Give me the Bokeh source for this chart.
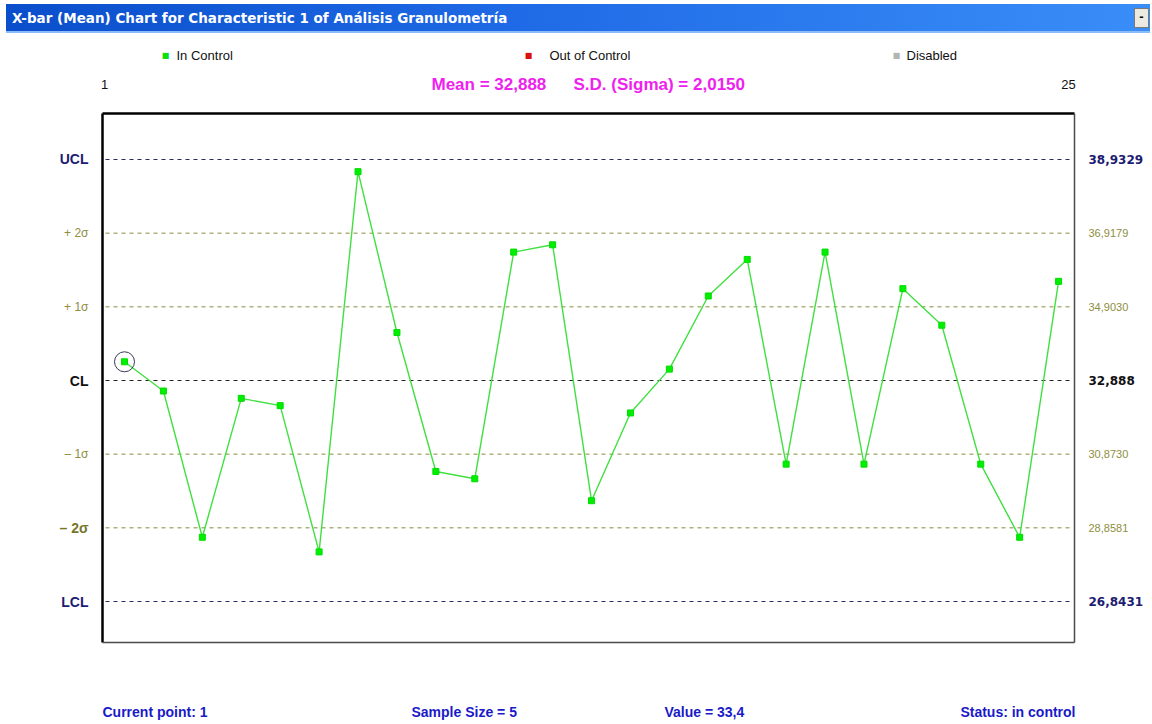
from bokeh.plotting import figure
from bokeh.models import Label, Div, Range1d
from bokeh.layouts import column
from bokeh.embed import file_html
from bokeh.resources import INLINE

# ---------------- data ----------------
title_text = "X-bar (Mean) Chart for Characteristic 1 of Análisis Granulometría"
samples = list(range(1, 26))
xbar = [33.4, 32.6, 28.6, 32.4, 32.2, 28.2, 38.6, 34.2, 30.4, 30.2,
        36.4, 36.6, 29.6, 32.0, 33.2, 35.2, 36.2, 30.6, 36.4, 30.6,
        35.4, 34.4, 30.6, 28.6, 35.6]
mean_text = "Mean = 32,888"
sd_text = "S.D. (Sigma) = 2,0150"
level_names = ["UCL", "+ 2σ", "+ 1σ", "CL", "– 1σ", "– 2σ", "LCL"]
level_values = [38.9329, 36.9179, 34.9030, 32.888, 30.8730, 28.8581, 26.8431]
level_texts = ["38,9329", "36,9179", "34,9030", "32,888", "30,8730", "28,8581", "26,8431"]
legend_names = ["In Control", "Out of Control", "Disabled"]
first_tick, last_tick = "1", "25"
status_texts = ["Current point: 1", "Sample Size = 5", "Value = 33,4", "Status: in control"]
current_index = 0

# ---------------- geometry (page pixels) ----------------
PAGE_W, PAGE_H = 1152, 724
BAR_H = 36                      # height of the window-title strip
FIG_W, FIG_H = PAGE_W, PAGE_H - BAR_H
PX_PER_X, PX_PER_Y = 38.92, 36.56
X_AT_PX = (124, samples[0])          # page x of first sample
Y_AT_PX = (380, level_values[3])     # page y of centre line


def dx(sx):
    return X_AT_PX[1] + (sx - X_AT_PX[0]) / PX_PER_X


def dy(sy):
    return Y_AT_PX[1] + (Y_AT_PX[0] - sy) / PX_PER_Y


p = figure(width=FIG_W, height=FIG_H, output_backend="svg", toolbar_location=None,
           x_range=Range1d(dx(0), dx(PAGE_W)), y_range=Range1d(dy(PAGE_H), dy(BAR_H)),
           x_axis_type=None, y_axis_type=None, min_border=0)
p.title.visible = False
p.outline_line_color = None
p.background_fill_color = "white"
p.border_fill_color = "white"

# plot box
BOX_L, BOX_R, BOX_T, BOX_B = 102, 1074, 113, 642
p.segment(x0=[dx(BOX_L), dx(BOX_L)], y0=[dy(BOX_T), dy(BOX_T)],
          x1=[dx(BOX_L), dx(BOX_R)], y1=[dy(BOX_B), dy(BOX_T)],
          line_color="black", line_width=2.5)
p.segment(x0=[dx(BOX_R), dx(BOX_L)], y0=[dy(BOX_T), dy(BOX_B)],
          x1=[dx(BOX_R), dx(BOX_R)], y1=[dy(BOX_B), dy(BOX_B)],
          line_color="#4a4a4a", line_width=1.5)

NAVY = "#1c1c72"
OLIVE_T = "#8e8e40"
SANS = "Liberation Sans"
line_colors = ["#2a2a66", "#8a8a3c", "#8a8a3c", "#222222", "#8a8a3c", "#8a8a3c", "#2a2a66"]
left_styles = [
    dict(color=NAVY, size="14px", style="bold", font=SANS),
    dict(color=OLIVE_T, size="12px", style="normal", font=SANS),
    dict(color=OLIVE_T, size="12px", style="normal", font=SANS),
    dict(color="#111111", size="14px", style="bold", font=SANS),
    dict(color=OLIVE_T, size="12px", style="normal", font=SANS),
    dict(color="#76762a", size="14px", style="bold", font=SANS),
    dict(color=NAVY, size="14px", style="bold", font=SANS),
]
right_styles = [
    dict(color=NAVY, size="12px", style="bold", font="DejaVu Sans"),
    dict(color=OLIVE_T, size="11px", style="normal", font=SANS),
    dict(color=OLIVE_T, size="11px", style="normal", font=SANS),
    dict(color="#111111", size="12px", style="bold", font="DejaVu Sans"),
    dict(color=OLIVE_T, size="11px", style="normal", font=SANS),
    dict(color=OLIVE_T, size="11px", style="normal", font=SANS),
    dict(color=NAVY, size="12px", style="bold", font="DejaVu Sans"),
]

# control-limit and sigma lines
for v, c in zip(level_values, line_colors):
    p.segment(x0=[dx(BOX_L + 3)], y0=[v], x1=[dx(BOX_R - 2)], y1=[v],
              line_color=c, line_dash="4 4", line_width=1)

for name, txt, v, ls, rs in zip(level_names, level_texts, level_values, left_styles, right_styles):
    p.add_layout(Label(x=dx(88), y=v, text=name, text_align="right", text_baseline="middle",
                       text_color=ls["color"], text_font_size=ls["size"],
                       text_font_style=ls["style"], text_font=ls["font"]))
    p.add_layout(Label(x=dx(1088), y=v, text=txt, text_align="left", text_baseline="middle",
                       text_color=rs["color"], text_font_size=rs["size"],
                       text_font_style=rs["style"], text_font=rs["font"]))

# series
p.line(samples, xbar, line_color="#40e040", line_width=1.4)
p.scatter(samples, xbar, marker="square", size=6, fill_color="#00ee00", line_color="#00dd00")
p.scatter([samples[current_index]], [xbar[current_index]], marker="circle", size=20,
          fill_color=None, line_color="#3a3a58", line_width=1)

# legend row
legend_sq_x = [165, 528, 896]
legend_tx_x = [176, 549, 906]
legend_cols = ["#10dd10", "#dd1010", "#b4b4b4"]
for name, sx, tx, c in zip(legend_names, legend_sq_x, legend_tx_x, legend_cols):
    p.add_layout(Label(x=dx(sx), y=dy(55), text="■", text_align="center", text_baseline="middle",
                       text_color=c, text_font_size="8px", text_font="DejaVu Sans"))
    p.add_layout(Label(x=dx(tx), y=dy(55), text=name, text_align="left", text_baseline="middle",
                       text_color="#111111", text_font_size="13px", text_font=SANS))

# range labels and statistics
p.add_layout(Label(x=dx(104), y=dy(84), text=first_tick, text_align="center", text_baseline="middle",
                   text_color="#111111", text_font_size="13px", text_font=SANS))
p.add_layout(Label(x=dx(1068), y=dy(84), text=last_tick, text_align="center", text_baseline="middle",
                   text_color="#111111", text_font_size="13px", text_font=SANS))
for t, sx in zip([mean_text, sd_text], [431, 573]):
    p.add_layout(Label(x=dx(sx), y=dy(84), text=t, text_align="left", text_baseline="middle",
                       text_color="#ee22ee", text_font_size="17px", text_font_style="bold",
                       text_font=SANS))

# status row
status_x = [102, 411, 664, 1075]
status_align = ["left", "left", "left", "right"]
for t, sx, al in zip(status_texts, status_x, status_align):
    p.add_layout(Label(x=dx(sx), y=dy(711), text=t, text_align=al, text_baseline="middle",
                       text_color="#1a1ac8", text_font_size="14px", text_font_style="bold",
                       text_font=SANS))

bar_html = (
    "<div style=\"position:relative;width:%dpx;height:%dpx;background:white;\">"
    "<div style=\"position:absolute;left:6px;top:4px;width:1144px;height:29px;box-sizing:border-box;"
    "background:linear-gradient(to right,#0a4ecb 0%%,#1f6ae6 45%%,#3a8ef8 100%%);"
    "border-bottom:2px solid #8cbcf8;color:white;font:bold 13.5px 'DejaVu Sans',sans-serif;"
    "line-height:28px;padding-left:6px;white-space:nowrap;\">%s"
    "<span style=\"position:absolute;right:1px;top:4px;width:15px;height:20px;"
    "background:#ece9e0;border:1px solid #7a7a7a;color:#000;text-align:center;"
    "line-height:18px;font:bold 13px 'Liberation Sans';\">-</span></div></div>"
) % (PAGE_W, BAR_H, title_text)
bar = Div(text=bar_html, width=PAGE_W, height=BAR_H, margin=0)

layout = column(bar, p, spacing=0)
open("out.html", "w").write(file_html(layout, INLINE))
